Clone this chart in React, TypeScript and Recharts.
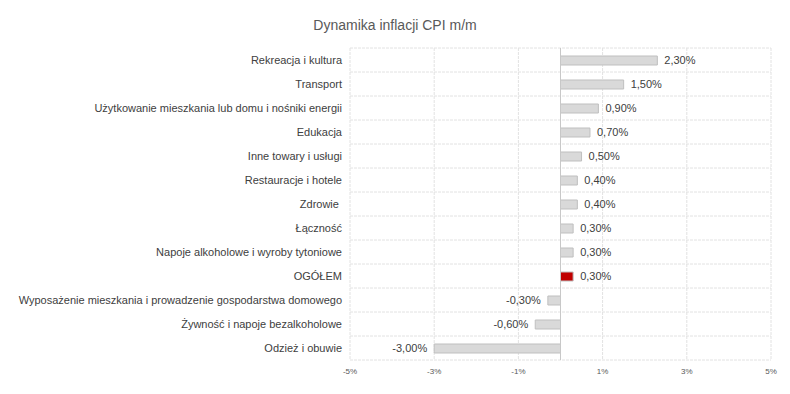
import React from 'react';
import { BarChart, Bar, XAxis, YAxis, CartesianGrid, ReferenceLine, Cell, LabelList } from 'recharts';

const categories = [
  'Rekreacja i kultura',
  'Transport',
  'Użytkowanie mieszkania lub domu i nośniki energii',
  'Edukacja',
  'Inne towary i usługi',
  'Restauracje i hotele',
  'Zdrowie ',
  'Łączność',
  'Napoje alkoholowe i wyroby tytoniowe',
  'OGÓŁEM',
  'Wyposażenie mieszkania i prowadzenie gospodarstwa domowego',
  'Żywność i napoje bezalkoholowe',
  'Odzież i obuwie',
];
const values = [2.3, 1.5, 0.9, 0.7, 0.5, 0.4, 0.4, 0.3, 0.3, 0.3, -0.3, -0.6, -3.0];
const xTicks = [-5, -3, -1, 1, 3, 5];
const highlight = 'OGÓŁEM';
const title = 'Dynamika inflacji CPI m/m';

const data = categories.map((name, i) => ({ name, value: values[i] }));

const FONT = '"Liberation Sans", Arial, sans-serif';

const fmt = (v: number) => v.toFixed(2).replace('.', ',') + '%';

const YTick = (props: any) => {
  const { x, y, payload } = props;
  return (
    <text x={x} y={y} dy="0.35em" textAnchor="end" fill="#404040" fontSize={11} fontFamily={FONT} style={{ whiteSpace: 'pre' }}>
      {payload.value}
    </text>
  );
};

const ValueLabel = (props: any) => {
  const { x, y, width, height, value } = props;
  const neg = value < 0;
  const left = Math.min(x, x + width);
  const right = Math.max(x, x + width);
  const tx = neg ? left - 7 : right + 7;
  return (
    <text x={tx} y={y + height / 2} dy="0.35em" textAnchor={neg ? 'end' : 'start'} fill="#404040" fontSize={11} fontFamily={FONT}>
      {fmt(value)}
    </text>
  );
};

export default function App() {
  const n = categories.length;
  return (
    <div style={{ position: 'absolute', left: 0, top: 0, width: 790, height: 394, background: '#fff' }}>
      <div style={{ position: 'absolute', left: 0, top: 17, width: 790, textAlign: 'center', fontFamily: FONT, fontSize: 14, lineHeight: '16px', color: '#595959' }}>
        {title}
      </div>
      <BarChart
        width={790}
        height={394}
        data={data}
        layout="vertical"
        margin={{ top: 48, right: 19, bottom: 4, left: 0 }}
      >
        <CartesianGrid
          stroke="#e2e2e2"
          strokeDasharray="3 1"
          horizontalCoordinatesGenerator={({ offset }: any) =>
            Array.from({ length: n + 1 }, (_, i) => offset.top + (offset.height * i) / n)
          }
        />
        <XAxis
          type="number"
          domain={[-5, 5]}
          ticks={xTicks}
          height={30}
          tickFormatter={(v: number) => `${v}%`}
          axisLine={false}
          tickLine={false}
          tick={{ fontSize: 8, fill: '#595959', fontFamily: FONT }}
        />
        <YAxis
          type="category"
          dataKey="name"
          width={350}
          axisLine={false}
          tickLine={false}
          tick={<YTick />}
          interval={0}
        />
        <ReferenceLine x={0} stroke="#c8c8c8" strokeWidth={1} />
        <Bar dataKey="value" barSize={9} stroke="#bfbfbf" strokeWidth={1} isAnimationActive={false}>
          {data.map((d) => (
            <Cell key={d.name} fill={d.name === highlight ? '#c00000' : '#d9d9d9'} />
          ))}
          <LabelList dataKey="value" content={<ValueLabel />} />
        </Bar>
      </BarChart>
    </div>
  );
}
